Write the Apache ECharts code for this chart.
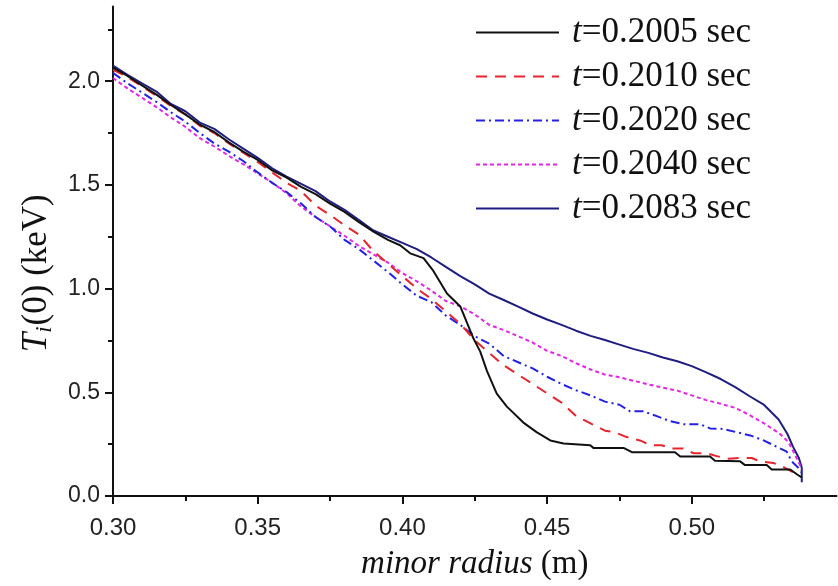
<!DOCTYPE html>
<html>
<head>
<meta charset="utf-8">
<script src="https://cdn.jsdelivr.net/npm/echarts@6/dist/echarts.min.js"></script>
<style>
  html, body { margin: 0; padding: 0; background: #fff; }
  #chart { width: 838px; height: 586px; }
</style>
</head>
<body>
<div id="chart"></div>
<script>
// Ion temperature profiles T_i vs minor radius at five times
const timeLabels = ['t=0.2005 sec', 't=0.2010 sec', 't=0.2020 sec', 't=0.2040 sec', 't=0.2083 sec'];

// [minor radius (m), T_i (keV)]
const profile2005 = [
  [0.300, 2.065], [0.305, 2.025], [0.310, 1.980], [0.315, 1.935], [0.320, 1.885],
  [0.325, 1.840], [0.330, 1.790], [0.335, 1.755], [0.340, 1.705], [0.345, 1.660],
  [0.350, 1.620], [0.355, 1.570], [0.360, 1.535], [0.365, 1.490], [0.370, 1.455],
  [0.375, 1.410], [0.380, 1.370], [0.385, 1.320], [0.390, 1.275], [0.395, 1.235],
  [0.3992, 1.209], [0.4027, 1.170], [0.4073, 1.147], [0.4107, 1.085], [0.4154, 0.976],
  [0.4200, 0.914], [0.4223, 0.836], [0.4246, 0.758], [0.4269, 0.696], [0.4292, 0.603],
  [0.4326, 0.494], [0.4361, 0.431], [0.4418, 0.354], [0.4465, 0.307], [0.4511, 0.268],
  [0.4557, 0.253], [0.4649, 0.245], [0.4660, 0.232], [0.4764, 0.232], [0.4793, 0.211],
  [0.4942, 0.211], [0.4960, 0.190], [0.5063, 0.190], [0.5080, 0.170], [0.5167, 0.167],
  [0.5184, 0.149], [0.5259, 0.149], [0.5276, 0.128], [0.5340, 0.128], [0.5363, 0.105],
  [0.5380, 0.089]
];
const profile2010 = [
  [0.300, 2.055], [0.305, 2.020], [0.310, 1.975], [0.315, 1.930], [0.320, 1.880],
  [0.325, 1.840], [0.330, 1.785], [0.335, 1.750], [0.340, 1.700], [0.345, 1.655],
  [0.350, 1.610], [0.355, 1.560], [0.360, 1.510], [0.365, 1.470], [0.370, 1.400],
  [0.375, 1.355], [0.380, 1.305], [0.385, 1.260], [0.390, 1.180], [0.395, 1.120],
  [0.400, 1.060], [0.405, 1.000], [0.410, 0.950], [0.415, 0.890], [0.420, 0.830],
  [0.425, 0.750], [0.430, 0.690], [0.435, 0.630], [0.440, 0.585], [0.445, 0.540],
  [0.450, 0.495], [0.455, 0.450], [0.460, 0.385], [0.465, 0.350], [0.470, 0.315],
  [0.4735, 0.307], [0.4775, 0.284], [0.4821, 0.268], [0.4856, 0.245], [0.4896, 0.245],
  [0.4931, 0.229], [0.4971, 0.229], [0.5006, 0.206], [0.5052, 0.206], [0.5092, 0.190],
  [0.5127, 0.180], [0.5167, 0.183], [0.5207, 0.183], [0.5236, 0.167], [0.5282, 0.159],
  [0.5311, 0.144], [0.5363, 0.105], [0.5374, 0.097]
];
const profile2020 = [
  [0.300, 2.040], [0.305, 1.990], [0.310, 1.945], [0.315, 1.900], [0.320, 1.850],
  [0.325, 1.805], [0.330, 1.750], [0.335, 1.700], [0.340, 1.660], [0.345, 1.615],
  [0.350, 1.560], [0.355, 1.510], [0.360, 1.465], [0.365, 1.410], [0.370, 1.345],
  [0.375, 1.300], [0.380, 1.235], [0.385, 1.190], [0.390, 1.135], [0.395, 1.080],
  [0.400, 1.020], [0.405, 0.965], [0.410, 0.935], [0.415, 0.870], [0.420, 0.825],
  [0.425, 0.770], [0.430, 0.735], [0.435, 0.675], [0.440, 0.645], [0.445, 0.615],
  [0.450, 0.575], [0.455, 0.540], [0.460, 0.510], [0.465, 0.485], [0.470, 0.455],
  [0.475, 0.440], [0.4787, 0.408], [0.4833, 0.408], [0.4879, 0.385], [0.4925, 0.361],
  [0.4971, 0.346], [0.5029, 0.346], [0.5063, 0.326], [0.5110, 0.323], [0.5156, 0.307],
  [0.5202, 0.292], [0.5248, 0.268], [0.5294, 0.237], [0.5328, 0.214], [0.5345, 0.167],
  [0.5368, 0.136], [0.5380, 0.113]
];
const profile2040 = [
  [0.300, 2.015], [0.305, 1.965], [0.310, 1.920], [0.315, 1.875], [0.320, 1.825],
  [0.325, 1.780], [0.330, 1.725], [0.335, 1.685], [0.340, 1.640], [0.345, 1.600],
  [0.350, 1.555], [0.355, 1.510], [0.360, 1.460], [0.365, 1.395], [0.370, 1.345],
  [0.375, 1.300], [0.380, 1.255], [0.385, 1.205], [0.390, 1.165], [0.395, 1.125],
  [0.400, 1.075], [0.405, 1.035], [0.410, 0.990], [0.415, 0.940], [0.420, 0.915],
  [0.425, 0.875], [0.430, 0.825], [0.435, 0.800], [0.440, 0.770], [0.445, 0.740],
  [0.450, 0.700], [0.455, 0.675], [0.460, 0.640], [0.465, 0.610], [0.470, 0.585],
  [0.475, 0.573], [0.480, 0.555], [0.485, 0.538], [0.490, 0.522], [0.495, 0.508],
  [0.500, 0.485], [0.505, 0.462], [0.510, 0.445], [0.515, 0.425], [0.520, 0.390],
  [0.525, 0.350], [0.5305, 0.299], [0.5334, 0.260], [0.5351, 0.214], [0.5368, 0.167],
  [0.5380, 0.130]
];
const profile2083 = [
  [0.300, 2.075], [0.305, 2.030], [0.310, 1.990], [0.315, 1.950], [0.320, 1.890],
  [0.325, 1.855], [0.330, 1.800], [0.335, 1.770], [0.340, 1.720], [0.345, 1.675],
  [0.350, 1.630], [0.355, 1.580], [0.360, 1.540], [0.365, 1.505], [0.370, 1.470],
  [0.375, 1.420], [0.380, 1.380], [0.385, 1.330], [0.390, 1.280], [0.395, 1.250],
  [0.400, 1.220], [0.405, 1.190], [0.410, 1.150], [0.415, 1.105], [0.420, 1.060],
  [0.425, 1.020], [0.430, 0.976], [0.435, 0.945], [0.440, 0.913], [0.445, 0.880],
  [0.450, 0.851], [0.455, 0.825], [0.460, 0.797], [0.465, 0.772], [0.470, 0.752],
  [0.475, 0.730], [0.480, 0.708], [0.485, 0.690], [0.490, 0.668], [0.495, 0.650],
  [0.500, 0.626], [0.505, 0.596], [0.510, 0.564], [0.515, 0.525], [0.520, 0.481],
  [0.525, 0.439], [0.530, 0.369], [0.533, 0.300], [0.535, 0.237], [0.537, 0.183],
  [0.538, 0.136], [0.538, 0.066]
];

// axis ticks
const xTicks = [0.30, 0.35, 0.40, 0.45, 0.50];
const xMinorTicks = [0.325, 0.375, 0.425, 0.475, 0.525];
const yTicks = [0.0, 0.5, 1.0, 1.5, 2.0];
const yMinorTicks = [0.25, 0.75, 1.25, 1.75, 2.25];

const X_MIN = 0.30, X_MAX = 0.55, Y_MIN = 0, Y_MAX = 2.36;

const profiles = [profile2005, profile2010, profile2020, profile2040, profile2083];
const colors = ['#111111', '#e8242c', '#2222e6', '#e626e6', '#1e1e82'];
const dashes = ['solid', [11, 8], [9, 4, 2, 4], [4, 3], 'solid'];

const SERIF = '"Liberation Serif", "DejaVu Serif", serif';
const SANS = '"Liberation Sans", Arial, sans-serif';
const AXIS_COLOR = '#111';

function majorXAxis() {
  return {
    type: 'value', min: X_MIN, max: X_MAX, position: 'bottom',
    axisLine: { show: true, onZero: false, lineStyle: { color: AXIS_COLOR, width: 2 } },
    axisTick: { show: true, inside: false, length: 8, lineStyle: { color: AXIS_COLOR, width: 2 }, customValues: xTicks },
    axisLabel: { customValues: xTicks, margin: 20, fontFamily: SANS, fontSize: 24, color: '#222',
      formatter: v => v.toFixed(2) },
    splitLine: { show: false },
    name: '{it|minor radius}{rm| (m)}',
    nameLocation: 'middle', nameGap: 52,
    nameTextStyle: {
      rich: {
        it: { fontFamily: SERIF, fontStyle: 'italic', fontSize: 33, color: '#111' },
        rm: { fontFamily: SERIF, fontSize: 33, color: '#111' }
      }
    }
  };
}
function minorXAxis() {
  return {
    type: 'value', min: X_MIN, max: X_MAX, position: 'bottom',
    axisLine: { show: false, onZero: false },
    axisTick: { show: true, inside: false, length: 5, lineStyle: { color: AXIS_COLOR, width: 2 }, customValues: xMinorTicks },
    axisLabel: { show: false },
    splitLine: { show: false }
  };
}
function majorYAxis() {
  return {
    type: 'value', min: Y_MIN, max: Y_MAX, position: 'left',
    axisLine: { show: true, onZero: false, lineStyle: { color: AXIS_COLOR, width: 2 } },
    axisTick: { show: true, inside: false, length: 8, lineStyle: { color: AXIS_COLOR, width: 2 }, customValues: yTicks },
    axisLabel: { customValues: yTicks, margin: 13, fontFamily: SANS, fontSize: 23, color: '#222',
      formatter: v => v.toFixed(1) },
    splitLine: { show: false },
    name: '{it|T}{sub|i}{rm|(0) (keV)}',
    nameLocation: 'middle', nameGap: 57, nameRotate: 90,
    nameTextStyle: {
      padding: [0, 44, 0, 0],
      rich: {
        it: { fontFamily: SERIF, fontStyle: 'italic', fontSize: 35, color: '#111' },
        sub: { fontFamily: SERIF, fontStyle: 'italic', fontSize: 23, color: '#111', padding: [16, 1, 0, 0] },
        rm: { fontFamily: SERIF, fontSize: 35, color: '#111' }
      }
    }
  };
}
function minorYAxis() {
  return {
    type: 'value', min: Y_MIN, max: Y_MAX, position: 'left',
    axisLine: { show: false, onZero: false },
    axisTick: { show: true, inside: false, length: 5, lineStyle: { color: AXIS_COLOR, width: 2 }, customValues: yMinorTicks },
    axisLabel: { show: false },
    splitLine: { show: false }
  };
}

const chart = echarts.init(document.getElementById('chart'), null, { renderer: 'canvas' });
chart.setOption({
  animation: false,
  backgroundColor: '#ffffff',
  grid: { left: 113, right: 1.5, top: 6.5, bottom: 73.5, containLabel: false },
  xAxis: [majorXAxis(), minorXAxis()],
  yAxis: [majorYAxis(), minorYAxis()],
  legend: {
    orient: 'vertical',
    left: 470, top: 10,
    itemWidth: 83, itemHeight: 14, itemGap: 9,
    data: timeLabels,
    itemStyle: { opacity: 0 },
    formatter: name => '{it|' + name.charAt(0) + '}{rm|' + name.slice(1) + '}',
    textStyle: {
      padding: [0, 0, 0, 8],
      rich: {
        it: { fontFamily: SERIF, fontStyle: 'italic', fontSize: 35, lineHeight: 35, color: '#111' },
        rm: { fontFamily: SERIF, fontSize: 35, lineHeight: 35, color: '#111' }
      }
    }
  },
  series: profiles.map((data, i) => ({
    name: timeLabels[i],
    type: 'line',
    xAxisIndex: 0, yAxisIndex: 0,
    data: data,
    symbol: 'none',
    showSymbol: false,
    smooth: false,
    clip: true,
    color: colors[i],
    lineStyle: { color: colors[i], width: 2, type: dashes[i] },
    z: 10 - i
  }))
});
</script>
</body>
</html>
